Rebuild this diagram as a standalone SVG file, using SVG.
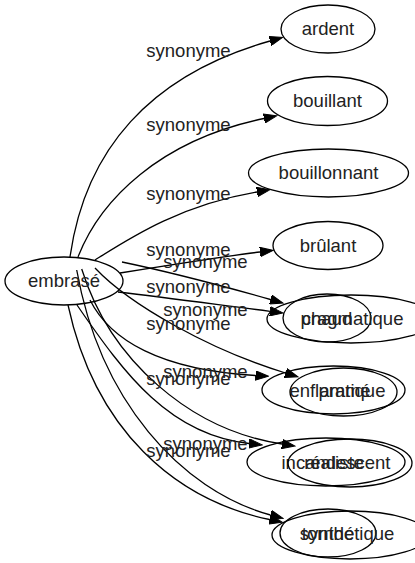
<svg xmlns="http://www.w3.org/2000/svg" width="415" height="563" viewBox="0 0 415 563">
<style>
  .node ellipse { fill: none; stroke: #000; stroke-width: 1.3; }
  text { font-family: "Liberation Sans", Arial, sans-serif; font-size: 18.5px; text-anchor: middle; fill: #222; }
  .edges path { fill: none; stroke: #000; stroke-width: 1.3; marker-end: url(#arr); }
</style>
<defs>
  <marker id="arr" markerUnits="userSpaceOnUse" markerWidth="14" markerHeight="10" viewBox="0 0 14 10" refX="0" refY="5" orient="auto">
    <path d="M0,0.3 L13,5 L0,9.7 Z" fill="#000" stroke="#000" stroke-width="1"/>
  </marker>
</defs>
<rect width="415" height="563" fill="#fff"/>

<g class="edges" id="connectors">
  <path d="M70,257 C85,150 150,75 270,41"/>
  <path d="M78,257 C100,200 160,140 264,118.5"/>
  <path d="M95,260 C130,238 180,205 257,192"/>
  <path d="M120,273 C170,265 220,257 260,252"/>
  <path d="M118,292 C170,298 220,305 270,311.3"/>
  <path d="M90,300 C110,340 160,370 255.5,375.5"/>
  <path d="M77,305 C125,375 170,435 249,443.5"/>
  <path d="M68,305 C95,430 175,500 269.5,519.5"/>
  <path d="M122,262 C170,272 230,288 270.5,299.5"/>
  <path d="M95,268 C130,305 210,350 285.5,373"/>
  <path d="M81.7,269 C110,360 190,430 282,444"/>
  <path d="M76.7,270 C100,400 180,490 270.5,515"/>
</g>

<g id="edge-labels">
  <text x="188.5" y="57">synonyme</text>
  <text x="188.5" y="131">synonyme</text>
  <text x="188.5" y="200">synonyme</text>
  <text x="188.5" y="256">synonyme</text>
  <text x="188.5" y="293">synonyme</text>
  <text x="188.5" y="330">synonyme</text>
  <text x="188.5" y="385">synonyme</text>
  <text x="188.5" y="457">synonyme</text>
  <text x="205.5" y="267.5">synonyme</text>
  <text x="205.5" y="315.5">synonyme</text>
  <text x="205.5" y="378">synonyme</text>
  <text x="205.5" y="449.5">synonyme</text>
</g>

<g class="node" id="n-embrase"><ellipse cx="64" cy="281" rx="59" ry="24"/><text x="64" y="287">embrasé</text></g>
<g class="node" id="n-ardent"><ellipse cx="328" cy="29" rx="47" ry="24"/><text x="328" y="35">ardent</text></g>
<g class="node" id="n-bouillant"><ellipse cx="327.5" cy="101" rx="60" ry="24.5"/><text x="327.5" y="107">bouillant</text></g>
<g class="node" id="n-bouillonnant"><ellipse cx="328.5" cy="173" rx="80" ry="24"/><text x="328.5" y="179">bouillonnant</text></g>
<g class="node" id="n-brulant"><ellipse cx="328" cy="245.5" rx="55" ry="24"/><text x="328" y="251.5">brûlant</text></g>
<g class="node" id="n-chaud"><ellipse cx="327" cy="318" rx="44" ry="24"/><text x="327" y="324.5">chaud</text></g>
<g class="node" id="n-enflamme"><ellipse cx="333.5" cy="390" rx="71.5" ry="24"/><text x="330" y="396.5">enflammé</text></g>
<g class="node" id="n-incandescent"><ellipse cx="326" cy="462" rx="79" ry="24"/><text x="336" y="468.5">incandescent</text></g>
<g class="node" id="n-torride"><ellipse cx="328" cy="533" rx="48" ry="24"/><text x="328" y="540">torride</text></g>
<g class="node" id="n-pragmatique"><ellipse cx="351" cy="319" rx="84" ry="24"/><text x="352" y="324.5">pragmatique</text></g>
<g class="node" id="n-pratique"><ellipse cx="343.5" cy="392" rx="53.5" ry="24"/><text x="352" y="396.5">pratique</text></g>
<g class="node" id="n-realiste"><ellipse cx="350" cy="463" rx="62" ry="24"/><text x="334" y="468.5">réaliste</text></g>
<g class="node" id="n-synthetique"><ellipse cx="350" cy="535" rx="78" ry="24"/><text x="347" y="540">synthétique</text></g>
</svg>
